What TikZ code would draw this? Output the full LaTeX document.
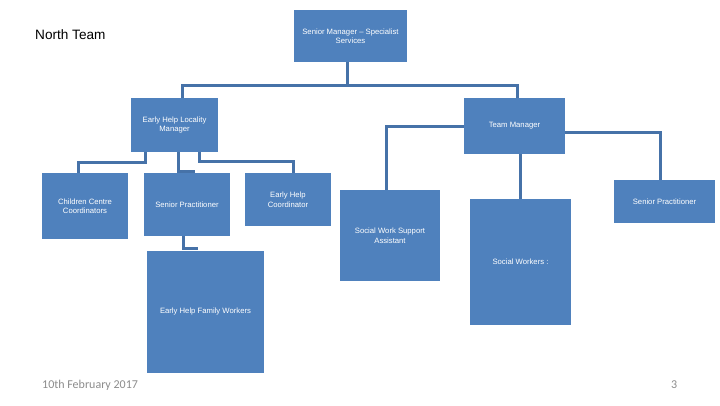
\documentclass[tikz,border=0pt]{standalone}
\usepackage{fontspec}
\setmainfont{Liberation Sans}
\newfontfamily\footfont{Carlito}
\definecolor{boxfill}{HTML}{4F81BD}
\definecolor{linkcol}{HTML}{4672A8}
\definecolor{footgray}{HTML}{8C8C8C}
\begin{document}
\begin{tikzpicture}[x=1pt,y=-1pt,
  orgbox/.style={rectangle, fill=boxfill, draw=none, inner sep=0pt,
    text=white, align=center, font=\fontsize{7.7}{9.5}\selectfont},
  plain/.style={anchor=base west, inner sep=0pt},
  link/.style={draw=linkcol, line width=3pt}]
\useasboundingbox[fill=white] (0,0) rectangle (720,405);

\node[plain, font=\fontsize{13.6}{16}\selectfont] (title) at (35,39) {North Team};
\node[plain, font=\footfont\fontsize{12}{14}\selectfont, text=footgray] (date) at (42,388) {10th February 2017};
\node[plain, font=\footfont\fontsize{12}{14}\selectfont, text=footgray] (page) at (671,388) {3};

\node[orgbox, minimum width=113pt, minimum height=52pt] (sm) at (350.5,36) {Senior Manager -- Specialist\\Services};
\node[orgbox, minimum width=87pt, minimum height=54pt] (ehlm) at (174.5,125) {Early Help Locality\\Manager};
\node[orgbox, minimum width=101pt, minimum height=56pt] (tm) at (514.5,126) {Team Manager};
\node[orgbox, minimum width=86pt, minimum height=66pt] (ccc) at (85,206) {Children Centre\\Coordinators};
\node[orgbox, minimum width=86pt, minimum height=63pt] (sp1) at (187,204.5) {Senior Practitioner};
\node[orgbox, minimum width=86pt, minimum height=53pt] (ehc) at (288,199.5) {Early Help\\Coordinator};
\node[orgbox, minimum width=100pt, minimum height=91pt] (swsa) at (390,235.5) {Social Work Support\\Assistant};
\node[orgbox, minimum width=101pt, minimum height=126pt] (sw) at (520.5,262) {Social Workers :};
\node[orgbox, minimum width=101pt, minimum height=43pt] (sp2) at (664.5,201.5) {Senior Practitioner};
\node[orgbox, minimum width=117pt, minimum height=122pt] (ehfw) at (205.5,312) {Early Help Family Workers};

\coordinate (bus) at (347,85);
\draw[link] ([xshift=-3.5pt]sm.south) -- (bus);
\draw[link] ([xshift=7.5pt]ehlm.north) |- (bus) -| ([xshift=2.5pt]tm.north);

\draw[link] ([xshift=-29.5pt]ehlm.south) -- ++(0,10) -| ([xshift=-7pt]ccc.north);
\draw[link] ([xshift=3.5pt]ehlm.south) |- ([xshift=8pt,yshift=1pt]sp1.north);
\draw[link] ([xshift=24.5pt]ehlm.south) -- ++(0,9) -| ([xshift=5pt]ehc.north);
\draw[link] ([xshift=-4pt]sp1.south) |- ([xshift=-7.5pt,yshift=2pt]ehfw.north);

\draw[link] (tm.west) -| ([xshift=-4pt]swsa.north);
\draw[link] (tm.south -| sw.north) -- (sw.north);
\draw[link] ([yshift=-6pt]tm.east) -| ([xshift=-4.5pt]sp2.north);
\end{tikzpicture}
\end{document}
